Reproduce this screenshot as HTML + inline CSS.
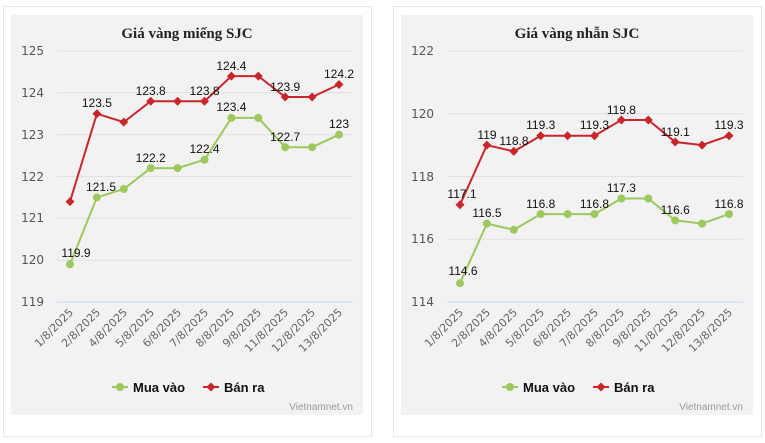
<!DOCTYPE html>
<html><head><meta charset="utf-8"><style>body{margin:0;background:#fff}svg{display:block}text{font-family:"Liberation Sans","DejaVu Sans",sans-serif}.dv{font-family:"DejaVu Sans",sans-serif}</style></head>
<body>
<svg width="765" height="443" viewBox="0 0 765 443" xmlns="http://www.w3.org/2000/svg">
<defs>
<g id="d"><path d="M0,-4.5L4.5,0L0,4.5L-4.5,0Z" fill="#c8262b"/></g>
</defs>
<!-- LEFT -->
<rect x="3.5" y="6.5" width="368" height="430" fill="#fff" stroke="#e6e6e6"/>
<rect x="11" y="15" width="352" height="400" fill="#f2f2f2"/>
<text x="187" y="38" text-anchor="middle" font-weight="bold" font-size="15" fill="#222" style="font-family:'Liberation Serif',serif">Giá vàng miếng SJC</text>
<g stroke="#e0e0e0" stroke-width="1">
<line x1="57" x2="353" y1="51" y2="51"/><line x1="57" x2="353" y1="92.8" y2="92.8"/><line x1="57" x2="353" y1="134.7" y2="134.7"/><line x1="57" x2="353" y1="176.5" y2="176.5"/><line x1="57" x2="353" y1="218.3" y2="218.3"/><line x1="57" x2="353" y1="260.2" y2="260.2"/></g>
<line x1="57" x2="353" y1="302" y2="302" stroke="#c5d5ea"/>
<g font-size="12" fill="#555" text-anchor="end" class="dv">
<text class="dv" x="44" y="55">125</text><text class="dv" x="44" y="97">124</text><text class="dv" x="44" y="139">123</text><text class="dv" x="44" y="181">122</text><text class="dv" x="44" y="222">121</text><text class="dv" x="44" y="264">120</text><text class="dv" x="44" y="306">119</text></g>
<g font-size="11" fill="#666" text-anchor="end">
<text class="dv" transform="translate(74,313) rotate(-45)">1/8/2025</text><text class="dv" transform="translate(101,313) rotate(-45)">2/8/2025</text><text class="dv" transform="translate(128,313) rotate(-45)">4/8/2025</text><text class="dv" transform="translate(155,313) rotate(-45)">5/8/2025</text><text class="dv" transform="translate(182,313) rotate(-45)">6/8/2025</text><text class="dv" transform="translate(209,313) rotate(-45)">7/8/2025</text><text class="dv" transform="translate(235,313) rotate(-45)">8/8/2025</text><text class="dv" transform="translate(262,313) rotate(-45)">9/8/2025</text><text class="dv" transform="translate(289,313) rotate(-45)">11/8/2025</text><text class="dv" transform="translate(316,313) rotate(-45)">12/8/2025</text><text class="dv" transform="translate(343,313) rotate(-45)">13/8/2025</text></g>
<polyline fill="none" stroke="#9dc85e" stroke-width="2" points="70,264.3 96.9,197.4 123.8,189 150.7,168.1 177.6,168.1 204.5,159.8 231.4,117.9 258.3,117.9 285.2,147.2 312.1,147.2 339,134.7"/>
<g fill="#9dc85e"><circle cx="70" cy="264.3" r="4"/><circle cx="96.9" cy="197.4" r="4"/><circle cx="123.8" cy="189" r="4"/><circle cx="150.7" cy="168.1" r="4"/><circle cx="177.6" cy="168.1" r="4"/><circle cx="204.5" cy="159.8" r="4"/><circle cx="231.4" cy="117.9" r="4"/><circle cx="258.3" cy="117.9" r="4"/><circle cx="285.2" cy="147.2" r="4"/><circle cx="312.1" cy="147.2" r="4"/><circle cx="339" cy="134.7" r="4"/></g>
<polyline fill="none" stroke="#c8262b" stroke-width="2" points="70,201.6 96.9,113.7 123.8,122.1 150.7,101.2 177.6,101.2 204.5,101.2 231.4,76.1 258.3,76.1 285.2,97 312.1,97 339,84.5"/>
<use href="#d" x="70" y="201.6"/><use href="#d" x="96.9" y="113.7"/><use href="#d" x="123.8" y="122.1"/><use href="#d" x="150.7" y="101.2"/><use href="#d" x="177.6" y="101.2"/><use href="#d" x="204.5" y="101.2"/><use href="#d" x="231.4" y="76.1"/><use href="#d" x="258.3" y="76.1"/><use href="#d" x="285.2" y="97"/><use href="#d" x="312.1" y="97"/><use href="#d" x="339" y="84.5"/>
<g font-size="12" fill="#111" text-anchor="middle">
<text x="96.9" y="107">123.5</text><text x="150.7" y="95">123.8</text><text x="204.5" y="95">123.8</text><text x="231.4" y="70">124.4</text><text x="285.2" y="91">123.9</text><text x="339" y="78">124.2</text>
<text x="76" y="257">119.9</text><text x="101" y="191">121.5</text><text x="150.7" y="162">122.2</text><text x="204.5" y="153">122.4</text><text x="231.4" y="111">123.4</text><text x="285.2" y="141">122.7</text><text x="339" y="128">123</text></g>
<line x1="112" x2="128" y1="387" y2="387" stroke="#9dc85e" stroke-width="2"/><circle cx="120" cy="387" r="4" fill="#9dc85e"/>
<text x="133" y="392" font-size="13" fill="#111" font-weight="600">Mua vào</text>
<line x1="203" x2="219" y1="387" y2="387" stroke="#c8262b" stroke-width="2"/><use href="#d" x="211" y="387"/>
<text x="224" y="392" font-size="13" fill="#111" font-weight="600">Bán ra</text>
<text x="353" y="410" font-size="10" fill="#999" text-anchor="end">Vietnamnet.vn</text>

<!-- RIGHT -->
<rect x="393.5" y="6.5" width="368" height="430" fill="#fff" stroke="#e6e6e6"/>
<rect x="401" y="15" width="352" height="400" fill="#f2f2f2"/>
<text x="577" y="38" text-anchor="middle" font-weight="bold" font-size="15" fill="#222" style="font-family:'Liberation Serif',serif">Giá vàng nhẫn SJC</text>
<g stroke="#e0e0e0"><line x1="447" x2="743" y1="51" y2="51"/><line x1="447" x2="743" y1="113.75" y2="113.75"/><line x1="447" x2="743" y1="176.5" y2="176.5"/><line x1="447" x2="743" y1="239.25" y2="239.25"/></g>
<line x1="447" x2="743" y1="302" y2="302" stroke="#c5d5ea"/>
<g font-size="12" fill="#555" text-anchor="end">
<text class="dv" x="434" y="55">122</text><text class="dv" x="434" y="118">120</text><text class="dv" x="434" y="181">118</text><text class="dv" x="434" y="243">116</text><text class="dv" x="434" y="306">114</text></g>
<g font-size="11" fill="#666" text-anchor="end">
<text class="dv" transform="translate(464,313) rotate(-45)">1/8/2025</text><text class="dv" transform="translate(491,313) rotate(-45)">2/8/2025</text><text class="dv" transform="translate(518,313) rotate(-45)">4/8/2025</text><text class="dv" transform="translate(545,313) rotate(-45)">5/8/2025</text><text class="dv" transform="translate(572,313) rotate(-45)">6/8/2025</text><text class="dv" transform="translate(599,313) rotate(-45)">7/8/2025</text><text class="dv" transform="translate(625,313) rotate(-45)">8/8/2025</text><text class="dv" transform="translate(652,313) rotate(-45)">9/8/2025</text><text class="dv" transform="translate(679,313) rotate(-45)">11/8/2025</text><text class="dv" transform="translate(706,313) rotate(-45)">12/8/2025</text><text class="dv" transform="translate(733,313) rotate(-45)">13/8/2025</text></g>
<polyline fill="none" stroke="#9dc85e" stroke-width="2" points="460,283.2 486.9,223.6 513.8,229.8 540.7,214.1 567.6,214.1 594.5,214.1 621.4,198.5 648.3,198.5 675.2,220.4 702.1,223.6 729,214.1"/>
<g fill="#9dc85e"><circle cx="460" cy="283.2" r="4"/><circle cx="486.9" cy="223.6" r="4"/><circle cx="513.8" cy="229.8" r="4"/><circle cx="540.7" cy="214.1" r="4"/><circle cx="567.6" cy="214.1" r="4"/><circle cx="594.5" cy="214.1" r="4"/><circle cx="621.4" cy="198.5" r="4"/><circle cx="648.3" cy="198.5" r="4"/><circle cx="675.2" cy="220.4" r="4"/><circle cx="702.1" cy="223.6" r="4"/><circle cx="729" cy="214.1" r="4"/></g>
<polyline fill="none" stroke="#c8262b" stroke-width="2" points="460,204.7 486.9,145.1 513.8,151.4 540.7,135.7 567.6,135.7 594.5,135.7 621.4,120 648.3,120 675.2,142 702.1,145.1 729,135.7"/>
<use href="#d" x="460" y="204.7"/><use href="#d" x="486.9" y="145.1"/><use href="#d" x="513.8" y="151.4"/><use href="#d" x="540.7" y="135.7"/><use href="#d" x="567.6" y="135.7"/><use href="#d" x="594.5" y="135.7"/><use href="#d" x="621.4" y="120"/><use href="#d" x="648.3" y="120"/><use href="#d" x="675.2" y="142"/><use href="#d" x="702.1" y="145.1"/><use href="#d" x="729" y="135.7"/>
<g font-size="12" fill="#111" text-anchor="middle">
<text x="462" y="198">117.1</text><text x="487" y="139">119</text><text x="514" y="145">118.8</text><text x="540.7" y="129">119.3</text><text x="594.5" y="129">119.3</text><text x="621.4" y="114">119.8</text><text x="675.2" y="136">119.1</text><text x="729" y="129">119.3</text>
<text x="463" y="275">114.6</text><text x="487" y="217">116.5</text><text x="540.7" y="208">116.8</text><text x="594.5" y="208">116.8</text><text x="621.4" y="192">117.3</text><text x="675.2" y="214">116.6</text><text x="729" y="208">116.8</text></g>
<line x1="502" x2="518" y1="387" y2="387" stroke="#9dc85e" stroke-width="2"/><circle cx="510" cy="387" r="4" fill="#9dc85e"/>
<text x="523" y="392" font-size="13" fill="#111" font-weight="600">Mua vào</text>
<line x1="593" x2="609" y1="387" y2="387" stroke="#c8262b" stroke-width="2"/><use href="#d" x="601" y="387"/>
<text x="614" y="392" font-size="13" fill="#111" font-weight="600">Bán ra</text>
<text x="743" y="410" font-size="10" fill="#999" text-anchor="end">Vietnamnet.vn</text>
</svg>
</body></html>
